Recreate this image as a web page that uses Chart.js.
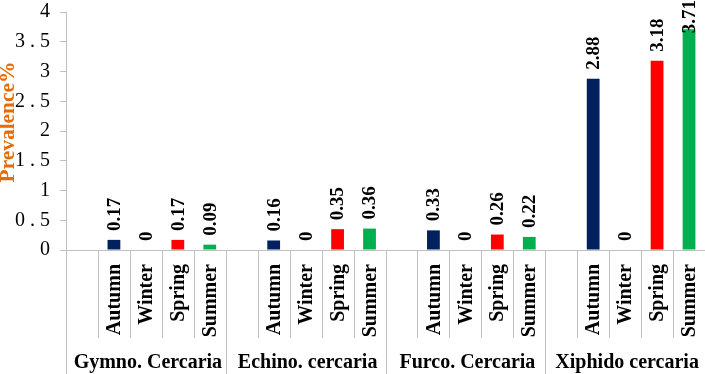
<!DOCTYPE html>
<html>
<head>
<meta charset="utf-8">
<script src="https://cdn.jsdelivr.net/npm/chart.js@4/dist/chart.umd.min.js"></script>
<style>
  html, body { margin: 0; padding: 0; background: #fff; }
  #wrap { width: 705px; height: 374px; position: relative; }
</style>
</head>
<body>
<div id="wrap"><canvas id="chart"></canvas></div>
<script>
// Prevalence of cercariae by season
const groups = ['Gymno. Cercaria', 'Echino. cercaria', 'Furco. Cercaria', 'Xiphido cercaria'];
const seasons = ['Autumn', 'Winter', 'Spring', 'Summer'];
const autumn = [0.17, 0.16, 0.33, 2.88];
const winter = [0, 0, 0, 0];
const spring = [0.17, 0.35, 0.26, 3.18];
const summer = [0.09, 0.36, 0.22, 3.71];
const yMax = 4;
const yStep = 0.5;
const yTitle = 'Prevalence%';

const seasonColors = ['#002060', '#7F7F7F', '#FF0000', '#00B050'];
const serif = '"Liberation Serif", "Times New Roman", serif';
const axisGray = '#BFBFBF';

// each group takes 5 slots: one blank, then the four seasons
const slots = 1 + seasons.length;
const labels = [];
groups.forEach(g => {
  labels.push('');
  seasons.forEach(s => labels.push(g + ' ' + s));
});

function slotData(values, seasonIdx) {
  const out = new Array(groups.length * slots).fill(null);
  values.forEach((v, g) => { out[g * slots + 1 + seasonIdx] = v; });
  return out;
}

const seriesValues = [autumn, winter, spring, summer];
const datasets = seriesValues.map((vals, i) => ({
  label: seasons[i],
  data: slotData(vals, i),
  backgroundColor: seasonColors[i],
  grouped: false,
  categoryPercentage: 1,
  barPercentage: 0.4
}));

const axisTablePlugin = {
  id: 'axisTable',
  afterDraw(chart) {
    const ctx = chart.ctx;
    const area = chart.chartArea;
    const x = chart.scales.x;
    const n = labels.length;
    const w = (area.right - area.left) / n;
    const bottom = area.bottom;

    ctx.save();
    ctx.strokeStyle = axisGray;
    ctx.lineWidth = 1;
    ctx.beginPath();
    ctx.moveTo(area.left, bottom + 0.5);
    ctx.lineTo(area.right, bottom + 0.5);
    for (let i = 0; i <= n; i++) {
      const px = Math.round(area.left + i * w) + 0.5;
      const long = i % slots === 0;
      ctx.moveTo(px, bottom);
      ctx.lineTo(px, long ? chart.height : bottom + 88);
    }
    ctx.stroke();

    // y axis title
    ctx.fillStyle = '#E46C0A';
    ctx.font = 'bold 20px ' + serif;
    ctx.textAlign = 'center';
    ctx.textBaseline = 'middle';
    ctx.save();
    ctx.translate(9, 122);
    ctx.rotate(-Math.PI / 2);
    ctx.scale(1.07, 1);
    ctx.fillText(yTitle, 0, 0);
    ctx.restore();

    // season labels, vertical
    ctx.fillStyle = '#000';
    ctx.font = 'bold 20px ' + serif;
    ctx.textAlign = 'right';
    groups.forEach((g, gi) => {
      seasons.forEach((s, si) => {
        const cx = x.getPixelForValue(gi * slots + 1 + si);
        ctx.save();
        ctx.translate(cx + 1, bottom + 14);
        ctx.rotate(-Math.PI / 2);
        ctx.fillText(s, 0, 0);
        ctx.restore();
      });
    });

    // group labels
    ctx.font = 'bold 20px ' + serif;
    ctx.textAlign = 'center';
    ctx.textBaseline = 'alphabetic';
    groups.forEach((g, gi) => {
      const gx = area.left + (gi * slots + slots / 2) * w;
      ctx.fillText(g, gx + 2, bottom + 118);
    });

    // value labels above bars
    ctx.font = 'bold 19px ' + serif;
    ctx.textAlign = 'left';
    ctx.textBaseline = 'middle';
    chart.data.datasets.forEach((ds, di) => {
      const meta = chart.getDatasetMeta(di);
      meta.data.forEach((bar, idx) => {
        const v = ds.data[idx];
        if (v === null) return;
        const txt = String(v);
        const tw = ctx.measureText(txt).width;
        let start = bar.y - 9;
        if (start - tw < 0) start = tw;
        ctx.save();
        ctx.translate(bar.x + 1, start);
        ctx.rotate(-Math.PI / 2);
        ctx.fillText(txt, 0, 0);
        ctx.restore();
      });
    });
    ctx.restore();
  }
};

new Chart(document.getElementById('chart'), {
  type: 'bar',
  data: { labels: labels, datasets: datasets },
  options: {
    responsive: true,
    maintainAspectRatio: false,
    animation: false,
    layout: { padding: { top: 0, right: 0, bottom: 124, left: 0 } },
    plugins: {
      legend: { display: false },
      tooltip: { enabled: false }
    },
    scales: {
      x: { display: false },
      y: {
        min: 0,
        max: yMax,
        afterFit(scale) {
          scale.width = 66;
          scale.paddingTop = 12;
          scale.paddingBottom = 0;
        },
        ticks: {
          stepSize: yStep,
          color: '#000',
          padding: 10,
          font: { family: serif, size: 20 },
          callback: v => String(v).replace('.', ' . ')
        },
        grid: { drawOnChartArea: false, drawTicks: true, tickLength: 6, color: axisGray },
        border: { display: true, color: axisGray }
      }
    }
  },
  plugins: [axisTablePlugin]
});
</script>
</body>
</html>
